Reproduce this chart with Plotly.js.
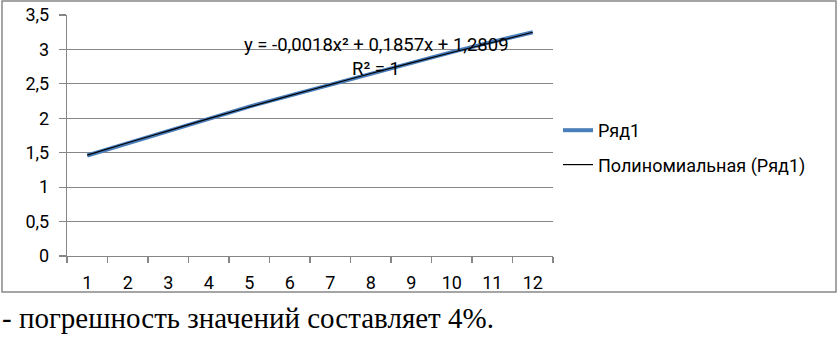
<!DOCTYPE html>
<html><head><meta charset="utf-8">
<script src="https://cdn.plot.ly/plotly-3.0.1.min.js"></script>
<style>html,body{margin:0;padding:0;background:#fff}#chart{width:838px;height:341px}</style>
</head><body><div id="chart"></div>
<script>
const categories = [1,2,3,4,5,6,7,8,9,10,11,12];
const seriesValues = [1.46,1.64,1.82,2.00,2.17,2.33,2.49,2.65,2.81,2.96,3.11,3.25];
const trendValues = [1.465,1.645,1.818,1.995,2.165,2.33,2.49,2.65,2.805,2.955,3.10,3.25];
const yTickVals = [0,0.5,1,1.5,2,2.5,3,3.5];
const yTickText = ['0','0,5','1','1,5','2','2,5','3','3,5'];
const seriesName = 'Ряд1';
const trendName = 'Полиномиальная (Ряд1)';
const equationText = 'y = -0,0018x² + 0,1857x + 1,2809';
const r2Text = 'R² = 1';
const noteText = '- погрешность значений составляет 4%.';

// pixel helpers (plot area: x 67..553, y 15..256)
const L=67, R=553, T=15, B=256;
const px = x => (x-L)/(R-L);
const py = y => (B-y)/(B-T);
const boundaries = categories.map(c=>c-0.5).concat([categories[categories.length-1]+0.5]);
const font = 'Roboto, "Noto Sans", sans-serif';
const fs = 18;

const data = [
  {x: categories, y: seriesValues, type:'scatter', mode:'lines', name: seriesName,
   line:{color:'#4A7EBB', width:4}, legendgroup:'a'},
  {x: categories, y: trendValues, type:'scatter', mode:'lines', name: trendName,
   line:{color:'#000000', width:1.2, shape:'spline'}, legendgroup:'b'}
];
const layout = {
  width:838, height:341,
  margin:{l:L, r:838-R, t:T, b:341-B, pad:0},
  paper_bgcolor:'#fff', plot_bgcolor:'#fff',
  font:{family:font, size:fs, color:'#000'},
  showlegend:true,
  legend:{x:px(558), y:py(112), xanchor:'left', yanchor:'top', traceorder:'grouped', tracegroupgap:8,
          font:{family:font, size:fs, color:'#000'}, bgcolor:'rgba(0,0,0,0)'},
  xaxis:{range:[0.5,12.5], tickvals:categories, ticktext:categories.map(String),
         ticks:'outside', ticklen:10, tickcolor:'rgba(0,0,0,0)', showgrid:false, zeroline:false,
         showline:true, linecolor:'#868686', linewidth:1.2,
         minor:{tickvals:boundaries, ticks:'outside', ticklen:6, tickcolor:'#868686', tickwidth:1.2, showgrid:false},
         tickfont:{family:font, size:fs, color:'#000'}, fixedrange:true},
  yaxis:{range:[0,3.5], tickvals:yTickVals, ticktext:yTickText, ticks:'outside', ticklen:7,
         tickcolor:'#868686', tickwidth:1.2, showgrid:true, gridcolor:'#868686', gridwidth:1.2,
         zeroline:false, showline:true, linecolor:'#868686', linewidth:1.2, ticklabelstandoff:6,
         tickfont:{family:font, size:fs, color:'#000'}, fixedrange:true},
  shapes:[{type:'rect', xref:'paper', yref:'paper', x0:px(2), x1:px(836), y0:py(292), y1:py(1),
           line:{color:'#888', width:1.5}, fillcolor:'rgba(0,0,0,0)', layer:'below'}],
  annotations:[
    {xref:'paper', yref:'paper', x:px(376), y:py(45), text:equationText, showarrow:false,
     xanchor:'center', yanchor:'middle', font:{family:font, size:fs+0.5, color:'#000'}},
    {xref:'paper', yref:'paper', x:px(376), y:py(69), text:r2Text, showarrow:false,
     xanchor:'center', yanchor:'middle', font:{family:font, size:fs+0.5, color:'#000'}},
    {xref:'paper', yref:'paper', x:px(0), y:py(300), text:noteText, showarrow:false,
     xanchor:'left', yanchor:'top', font:{family:'"Liberation Serif", "Times New Roman", serif', size:29, color:'#000'}}
  ]
};
Plotly.newPlot('chart', data, layout, {displayModeBar:false, staticPlot:true});
</script></body></html>
